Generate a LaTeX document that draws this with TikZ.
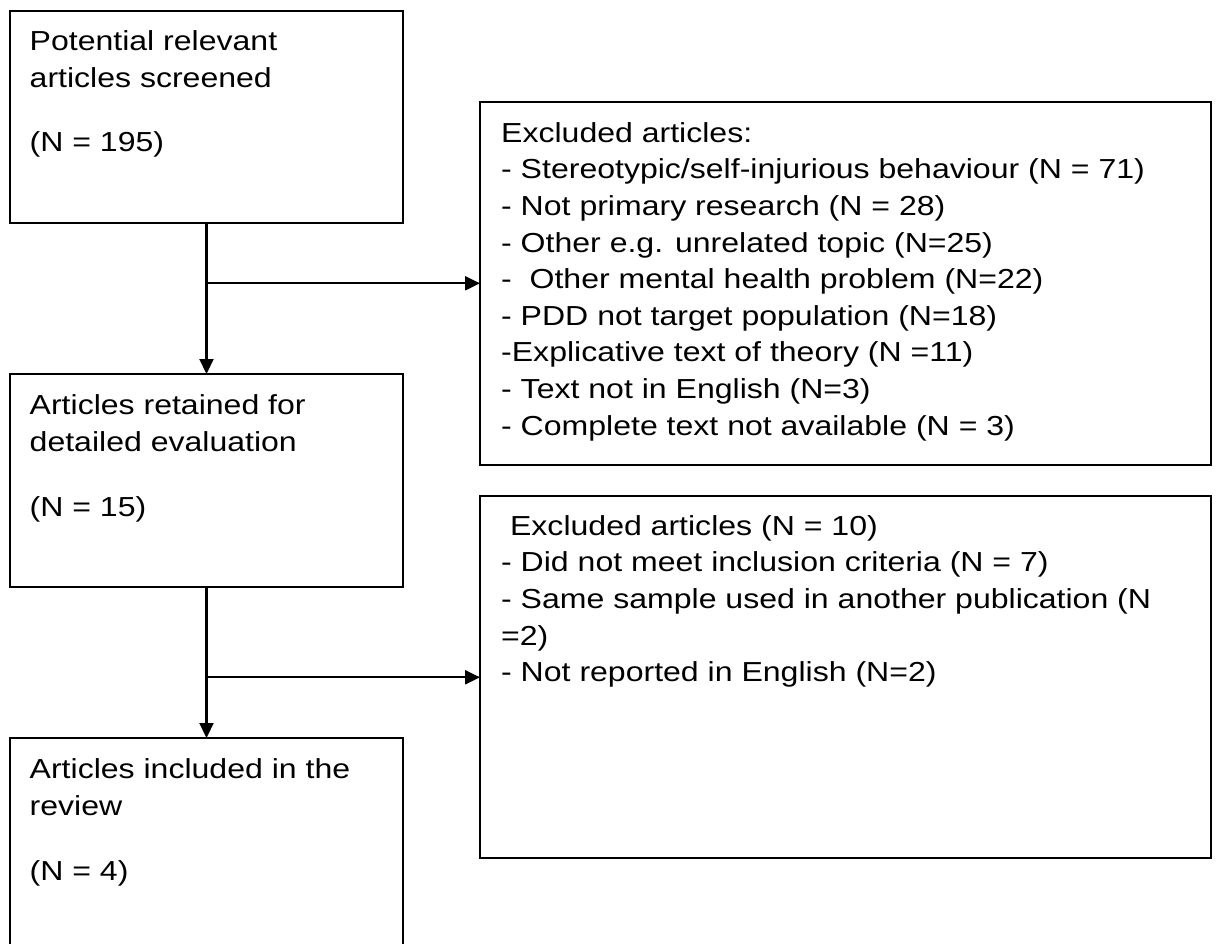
\documentclass[tikz,border=0pt]{standalone}
\usepackage{fontspec}
\setmainfont{Liberation Sans}[FakeStretch=1.165]
\usetikzlibrary{arrows.meta}
\begin{document}
\begin{tikzpicture}[x=1pt,y=-1pt,
  boxnode/.style={draw=black, line width=1.4pt, rectangle, inner sep=0pt, outer sep=0pt, anchor=north west},
  txt/.style={anchor=base west, align=left, inner sep=0pt, font=\fontsize{27.5}{36.6}\selectfont},
  conn/.style={draw=black, line width=2.2pt},
  arr/.style={conn, -{Triangle[length=15pt,width=14pt]}}]
\clip (0,0) rectangle (1216,944);
\fill[white] (0,0) rectangle (1216,944);
% boxes
\node[boxnode, minimum width=393pt, minimum height=212pt] (b1) at (10,11) {};
\node[boxnode, minimum width=731pt, minimum height=363pt] (b2) at (480,102) {};
\node[boxnode, minimum width=393pt, minimum height=213pt] (b3) at (10,374) {};
\node[boxnode, minimum width=393pt, minimum height=230pt] (b4) at (10,738) {};
\node[boxnode, minimum width=731pt, minimum height=362pt] (b5) at (480,496) {};
% texts (anchored at the baseline of their last line)
\node[txt] (t1) at (29.5,151.7) {Potential relevant\\articles screened\\[28pt](N = 195)};
\node[txt] (t2) at (501,435) {Excluded articles:\\- Stereotypic/self-injurious behaviour (N = 71)\\- Not primary research (N = 28)\\- Other e.g. unrelated topic (N=25)\\-\ \ Other mental health problem (N=22)\\- PDD not target population (N=18)\\-Explicative text of theory (N =11)\\- Text not in English (N=3)\\- Complete text not available (N = 3)};
\node[txt] (t3) at (29.5,516) {Articles retained for\\detailed evaluation\\[28pt](N = 15)};
\node[txt] (t4) at (29.5,880) {Articles included in the\\review\\[28pt](N = 4)};
\node[txt] (t5) at (501,681.7) {\ Excluded articles (N = 10)\\- Did not meet inclusion criteria (N = 7)\\- Same sample used in another publication (N\\=2)\\- Not reported in English (N=2)};
% connectors
\coordinate (j1) at (206.5,283.3);
\coordinate (j2) at (206.5,677.3);
\draw[arr] (b1.south) -- (b3.north);
\draw[arr] (j1) -- (j1 -| b2.west);
\draw[arr] (b3.south) -- (b4.north);
\draw[arr] (j2) -- (j2 -| b5.west);
\end{tikzpicture}
\end{document}
